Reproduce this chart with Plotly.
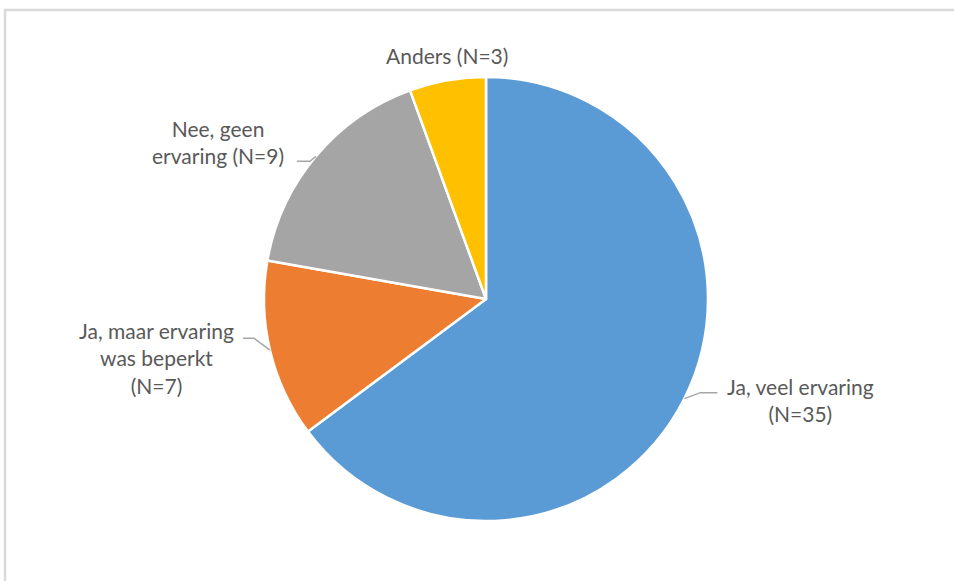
import math
import plotly.graph_objects as go

# ---- data ----
categories = ["Ja, veel ervaring", "Ja, maar ervaring<br>was beperkt", "Nee, geen<br>ervaring", "Anders"]
counts = [35, 7, 9, 3]
colors = ["#5B9BD5", "#ED7D31", "#A5A5A5", "#FFC000"]

# ---- layout (pixels) ----
W, H = 954, 581
ML, MR, MT, MB = 100, 82, 77, 60
PW, PH = W - ML - MR, H - MT - MB
R = min(PW, PH) / 2
CX, CY = ML + PW / 2, MT + PH / 2

# label block offsets from the slice-edge midpoint and leader elbows (styling)
label_offsets = [(116, 1), (-113, 8), (-98, -14), (0, -25)]
leader_paths = [[(16, -6), (33, -6)], [(-16, -12), (-27, -12)], [(-6, 5), (-19, 5)], None]
label_texts = ["Ja, veel ervaring<br>(N=%d)", "Ja, maar ervaring<br>was beperkt<br>(N=%d)",
               "Nee, geen<br>ervaring (N=%d)", "Anders (N=%d)"]


def px(x):
    return (x - ML) / PW


def py(y):
    return (H - MB - y) / PH


fig = go.Figure(go.Pie(
    labels=categories,
    values=counts,
    sort=False,
    direction="clockwise",
    rotation=0,
    marker=dict(colors=colors, line=dict(color="white", width=2.5)),
    textinfo="none",
    hoverinfo="label+value",
    showlegend=False,
    domain=dict(x=[0, 1], y=[0, 1]),
))

total = sum(counts)
annotations = []
shapes = []
cum = 0
for i, v in enumerate(counts):
    mid = (cum + v / 2) / total * 2 * math.pi
    cum += v
    ex = CX + R * math.sin(mid)
    ey = CY - R * math.cos(mid)
    ox, oy = label_offsets[i]
    annotations.append(dict(
        x=px(ex + ox), y=py(ey + oy), xref="paper", yref="paper",
        text=label_texts[i] % v, showarrow=False,
        xanchor="center", yanchor="middle", align="center",
        font=dict(family="Lato", size=21, color="#595959"),
    ))
    if leader_paths[i]:
        pts = [(ex, ey)] + [(ex + dx, ey + dy) for dx, dy in leader_paths[i]]
        path = "M " + " L ".join("%f,%f" % (px(a), py(b)) for a, b in pts)
        shapes.append(dict(type="path", path=path, xref="paper", yref="paper",
                           line=dict(color="#A6A6A6", width=1.5)))

# chart frame
shapes.append(dict(type="line", xref="paper", yref="paper",
                   x0=px(4), x1=px(954), y0=py(10), y1=py(10),
                   line=dict(color="#D9D9D9", width=2.5)))
shapes.append(dict(type="line", xref="paper", yref="paper",
                   x0=px(5), x1=px(5), y0=py(9), y1=py(581),
                   line=dict(color="#D9D9D9", width=2.5)))

fig.update_layout(
    width=W, height=H,
    margin=dict(l=ML, r=MR, t=MT, b=MB, autoexpand=False),
    paper_bgcolor="white", plot_bgcolor="white",
    annotations=annotations, shapes=shapes,
)

fig.write_html("out.html", config={"displayModeBar": False},
               post_script="document.body.style.margin='0';document.body.style.overflow='hidden';")
